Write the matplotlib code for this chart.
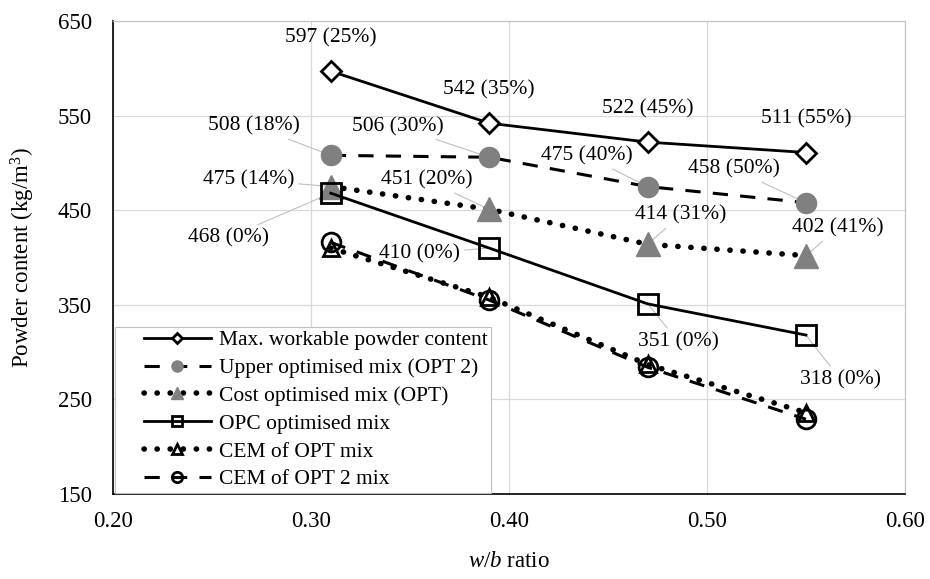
import matplotlib
matplotlib.use("Agg")
import matplotlib.pyplot as plt
from matplotlib.lines import Line2D
from matplotlib.legend_handler import HandlerLine2D

# data
wb = [0.31, 0.39, 0.47, 0.55]
max_workable = [597, 542, 522, 511]
upper_opt = [508, 506, 475, 458]
cost_opt = [475, 451, 414, 402]
opc_opt = [468, 410, 351, 318]
cem_opt = [410, 358, 287, 236]
cem_opt2 = [416, 355, 284, 229]

max_pct = [25, 35, 45, 55]
upper_pct = [18, 30, 40, 50]
cost_pct = [14, 20, 31, 41]
opc_pct = [0, 0, 0, 0]

plt.rcParams["font.family"] = ["Liberation Serif", "DejaVu Serif"]
plt.rcParams["mathtext.fontset"] = "custom"
plt.rcParams["mathtext.rm"] = "Liberation Serif"
plt.rcParams["mathtext.it"] = "Liberation Serif:italic"

fig = plt.figure(figsize=(9.3, 5.79), dpi=100)
ax = fig.add_axes([0.1215, 0.1468, 0.8516, 0.8169])

gray = "#808080"
dot = (0, (0.05, 2.3))
dash = (0, (5, 4))

ax.plot(wb, max_workable, color="k", lw=2, marker="D", ms=10, mfc="white",
        mec="k", mew=2, label="Max. workable powder content", zorder=5)
ax.plot(wb, upper_opt, color="k", lw=2.2, ls=dash, marker="o", ms=14.5,
        mfc=gray, mec=gray, label="Upper optimised mix (OPT 2)", zorder=5)
ax.plot(wb, cost_opt, color="k", lw=4, ls=dot, dash_capstyle="round",
        marker="^", ms=17, mfc=gray, mec=gray, label="Cost optimised mix (OPT)", zorder=5)
ax.plot(wb, opc_opt, color="k", lw=2, marker="s", ms=14, mfc="none",
        mec="k", mew=2, label="OPC optimised mix", zorder=6)
ax.plot(wb, cem_opt, color="k", lw=4, ls=dot, dash_capstyle="round",
        marker="^", ms=12, mfc="none", mec="k", mew=2, label="CEM of OPT mix", zorder=6)
ax.plot(wb, cem_opt2, color="k", lw=2.2, ls=dash, marker="o", ms=13.5,
        mfc="none", mec="k", mew=2, label="CEM of OPT 2 mix", zorder=6)

# data labels (value and percentage), offsets in points
lead = dict(arrowstyle="-", color="#bfbfbf", lw=0.8, shrinkA=1, shrinkB=0)

def tag(x, y, pct, dx, dy, leader=True):
    kw = dict(textcoords="offset points", ha="center", va="center", fontsize=15.5)
    if leader:
        kw["arrowprops"] = lead
    ax.annotate("%d (%d%%)" % (y, pct), (x, y), xytext=(dx, dy), **kw)

for x, y, p in zip(wb, max_workable, max_pct):
    tag(x, y, p, 0, 24, leader=False)

up_off = [(-55, 21), (-66, 22), (-44, 22), (-52, 24)]
for (x, y, p), (dx, dy) in zip(zip(wb, upper_opt, upper_pct), up_off):
    tag(x, y, p, dx, dy)

cost_off = [(-59, 5), (-45, 21), (24, 21), (23, 20)]
for (x, y, p), (dx, dy) in zip(zip(wb, cost_opt, cost_pct), cost_off):
    tag(x, y, p, dx, dy)

opc_off = [(-74, -32), (-50, -4), (22, -27), (25, -32)]
for (x, y, p), (dx, dy) in zip(zip(wb, opc_opt, opc_pct), opc_off):
    tag(x, y, p, dx, dy)

ax.set_xlim(0.2, 0.6)
ax.set_ylim(150, 650)
ax.set_xticks([0.2, 0.3, 0.4, 0.5, 0.6])
ax.set_xticklabels(["0.20", "0.30", "0.40", "0.50", "0.60"])
ax.set_yticks(range(150, 651, 100))
ax.tick_params(length=0, labelsize=16.5)
ax.tick_params(axis="x", pad=12)
ax.tick_params(axis="y", pad=15)
ax.grid(True, color="#d9d9d9", lw=0.9)
ax.set_axisbelow(True)
for s in ["top", "right"]:
    ax.spines[s].set_color("#bfbfbf")
for s in ["left", "bottom"]:
    ax.spines[s].set_color("k")
    ax.spines[s].set_linewidth(1.2)

ax.set_ylabel("Powder content (kg/m$^3$)", fontsize=16.5, labelpad=15)
ax.set_xlabel("$\\mathit{w/b}$ ratio", fontsize=16.5, labelpad=14)


class ShiftedHandler(HandlerLine2D):
    # leave a gap before the sample line, like the spreadsheet legend
    def get_xdata(self, legend, xdescent, ydescent, width, height, fontsize):
        x0 = -xdescent + 0.27 * width
        x1 = -xdescent + width
        return [x0, x1], [(x0 + x1) / 2]


leg = ax.legend(loc="lower left", bbox_to_anchor=(0.003, 0.003), fontsize=15.5,
                handlelength=4.3, markerscale=0.55, frameon=True, fancybox=False,
                edgecolor="#bfbfbf", framealpha=1, borderpad=0.15,
                labelspacing=0.36, handletextpad=0.35, borderaxespad=0,
                handler_map={Line2D: ShiftedHandler()})
leg.get_frame().set_linewidth(0.8)
leg.set_zorder(4)

fig.savefig("out.png", dpi=100)
